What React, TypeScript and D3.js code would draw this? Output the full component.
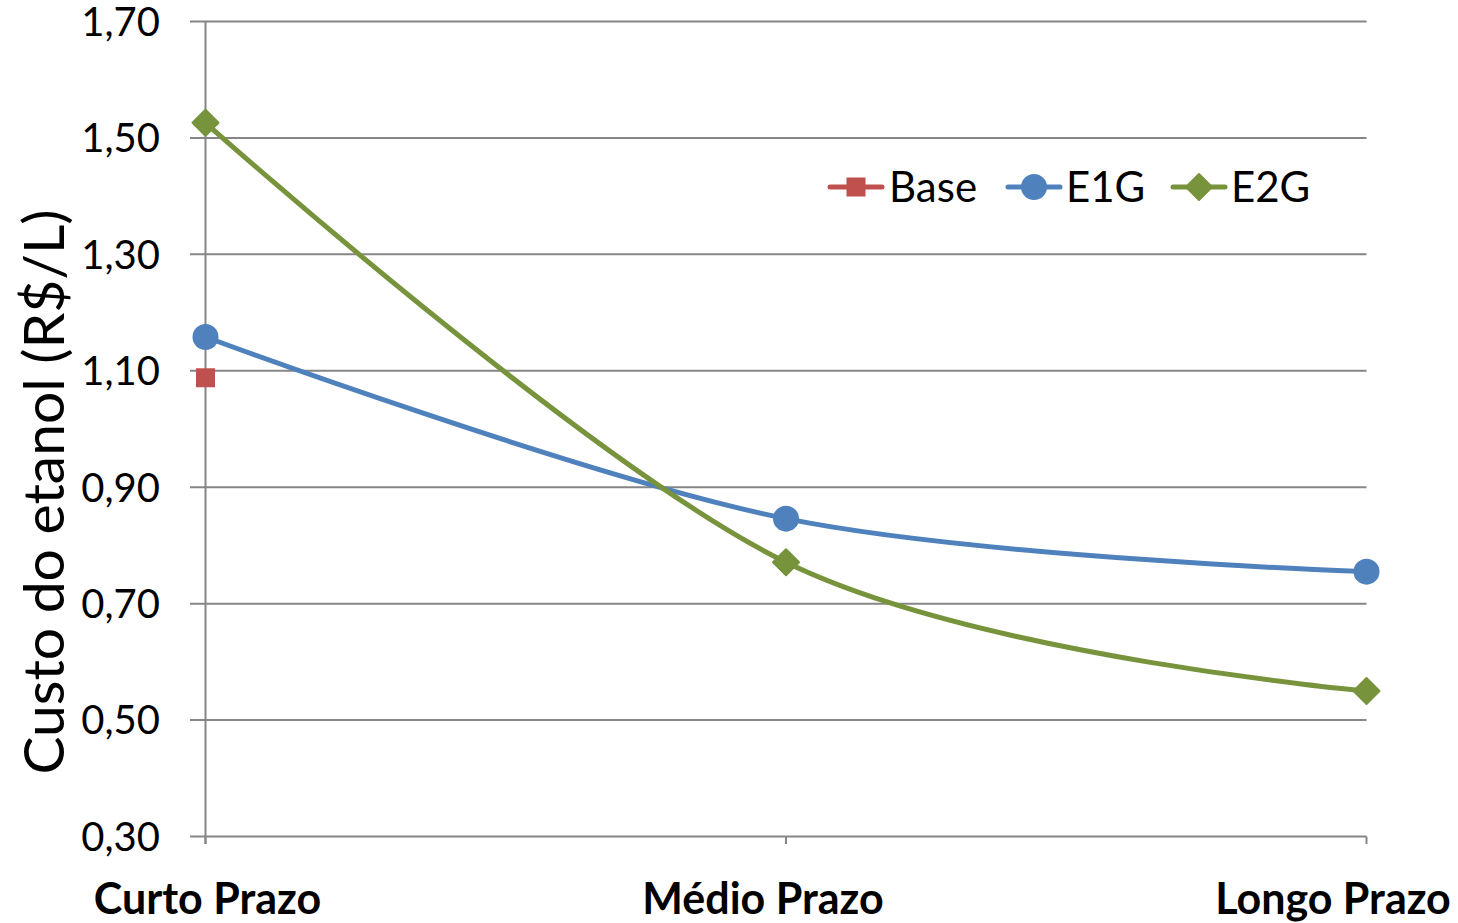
import React from "react";
import * as d3 from "d3";

// Categorias e séries
const categories = ["Curto Prazo", "Médio Prazo", "Longo Prazo"];
const baseValues = [1.088];
const e1gValues = [1.158, 0.846, 0.755];
const e2gValues = [1.526, 0.771, 0.55];
const yTicks = [0.3, 0.5, 0.7, 0.9, 1.1, 1.3, 1.5, 1.7];

const W = 1458;
const H = 923;
const FONT = "Lato, 'Open Sans', sans-serif";
const GRID = "#868686";
const RED = "#C0504D";
const BLUE = "#4F81BD";
const GREEN = "#77933C";

export default function App() {
  const x = d3.scalePoint<string>().domain(categories).range([205.5, 1366.5]);
  const y = d3.scaleLinear().domain([0.3, 1.7]).range([836.5, 21.5]);
  const fmt = (v: number) => d3.format(".2f")(v).replace(".", ",");

  const line = d3
    .line<number>()
    .x((_, i) => x(categories[i]) as number)
    .y((d) => y(d))
    .curve(d3.curveCardinal.tension(0));

  const diamond = (cx: number, cy: number, r: number) =>
    `M${cx},${cy - r}L${cx + r},${cy}L${cx},${cy + r}L${cx - r},${cy}Z`;

  // rótulos das categorias: o último é recuado para caber na largura
  const labelX = (c: string, i: number) => {
    const px = x(c) as number;
    if (i === 0) return px + 2;
    if (i === categories.length - 1) return 1333;
    return px - 23;
  };

  return (
    <svg width={W} height={H} style={{ position: "absolute", left: 0, top: 0, background: "#fff" }}>
      {/* linhas de grade horizontais */}
      {yTicks.map((t) => (
        <line key={t} x1={190} x2={1366.5} y1={y(t)} y2={y(t)} stroke={GRID} strokeWidth={2} />
      ))}
      {/* eixo vertical */}
      <line x1={205.5} x2={205.5} y1={y(1.7)} y2={844} stroke={GRID} strokeWidth={2} />
      {/* marcas do eixo horizontal */}
      {categories.map((c) => (
        <line key={c} x1={x(c)} x2={x(c)} y1={y(0.3)} y2={844} stroke={GRID} strokeWidth={2} />
      ))}
      {/* rótulos do eixo y */}
      {yTicks.map((t) => (
        <text key={t} x={160} y={y(t)} dy="0.36em" textAnchor="end" fontFamily={FONT} fontSize={40} fill="#000">
          {fmt(t)}
        </text>
      ))}
      {/* rótulos das categorias */}
      {categories.map((c, i) => (
        <text key={c} x={labelX(c, i)} y={914} textAnchor="middle" fontFamily={FONT} fontSize={43} fontWeight="bold" fill="#000">
          {c}
        </text>
      ))}
      {/* título do eixo y */}
      <text
        transform={`translate(64,492) rotate(-90)`}
        textAnchor="middle"
        fontFamily={FONT}
        fontSize={57}
        fill="#000"
      >
        Custo do etanol (R$/L)
      </text>

      {/* séries */}
      <path d={line(e1gValues) as string} fill="none" stroke={BLUE} strokeWidth={5} strokeLinecap="round" />
      <path d={line(e2gValues) as string} fill="none" stroke={GREEN} strokeWidth={5} strokeLinecap="round" />
      {baseValues.map((v, i) => (
        <rect key={i} x={(x(categories[i]) as number) - 9.5} y={y(v) - 9.5} width={19} height={19} fill={RED} />
      ))}
      {e1gValues.map((v, i) => (
        <circle key={i} cx={x(categories[i])} cy={y(v)} r={13} fill={BLUE} />
      ))}
      {e2gValues.map((v, i) => (
        <path key={i} d={diamond(x(categories[i]) as number, y(v), 13)} fill={GREEN} stroke={GREEN} strokeWidth={2} strokeLinejoin="round" />
      ))}

      {/* legenda */}
      <g fontFamily={FONT} fontSize={42} fill="#000">
        <line x1={830} x2={882} y1={187} y2={187} stroke={RED} strokeWidth={5} strokeLinecap="round" />
        <rect x={846.5} y={177.5} width={19} height={19} fill={RED} />
        <text x={889} y={187} dy="0.36em">Base</text>
        <line x1={1008} x2={1060} y1={187} y2={187} stroke={BLUE} strokeWidth={5} strokeLinecap="round" />
        <circle cx={1034} cy={187} r={13} fill={BLUE} />
        <text x={1066} y={187} dy="0.36em">E1G</text>
        <line x1={1173} x2={1225} y1={187} y2={187} stroke={GREEN} strokeWidth={5} strokeLinecap="round" />
        <path d={diamond(1199, 187, 13)} fill={GREEN} stroke={GREEN} strokeWidth={2} strokeLinejoin="round" />
        <text x={1231} y={187} dy="0.36em">E2G</text>
      </g>
    </svg>
  );
}
